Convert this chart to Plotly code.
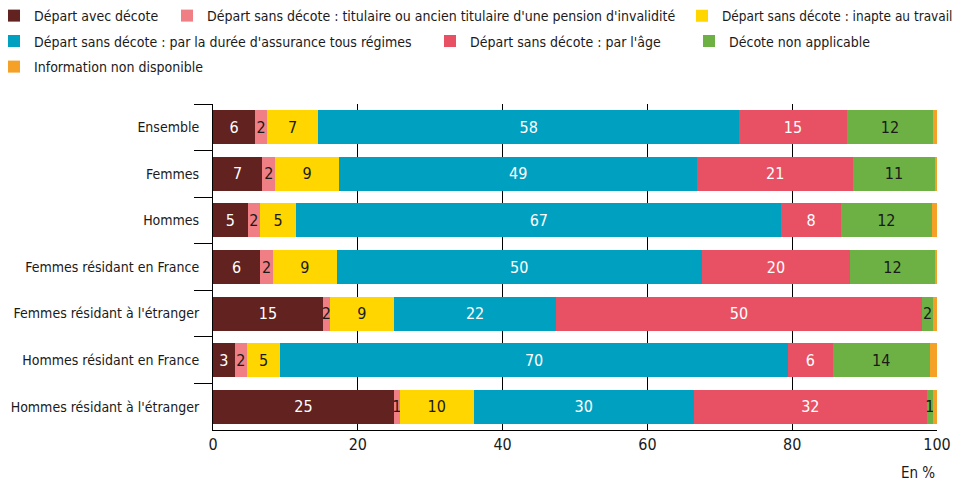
import plotly.graph_objects as go

categories = ["Ensemble", "Femmes", "Hommes", "Femmes résidant en France",
              "Femmes résidant à l'étranger", "Hommes résidant en France",
              "Hommes résidant à l'étranger"]

series_names = ["Départ avec décote",
                "Départ sans décote : titulaire ou ancien titulaire d'une pension d'invalidité",
                "Départ sans décote : inapte au travail",
                "Départ sans décote : par la durée d'assurance tous régimes",
                "Départ sans décote : par l'âge",
                "Décote non applicable",
                "Information non disponible"]

avec_decote = [5.8, 6.8, 4.8, 6.5, 15.2, 3.0, 25.0]
invalidite = [1.7, 1.8, 1.7, 1.8, 0.9, 1.7, 0.8]
inapte = [7.0, 8.8, 5.0, 8.8, 8.9, 4.6, 10.2]
duree = [58.2, 49.5, 67.0, 50.4, 22.4, 70.1, 30.4]
age = [14.8, 21.5, 8.2, 20.5, 50.5, 6.2, 32.2]
non_applicable = [12.0, 11.3, 12.6, 11.7, 1.6, 13.4, 0.8]
non_dispo = [0.5, 0.3, 0.7, 0.3, 0.5, 1.0, 0.6]

lab_avec = [6, 7, 5, 6, 15, 3, 25]
lab_inval = [2, 2, 2, 2, 2, 2, 1]
lab_inapte = [7, 9, 5, 9, 9, 5, 10]
lab_duree = [58, 49, 67, 50, 22, 70, 30]
lab_age = [15, 21, 8, 20, 50, 6, 32]
lab_nonapp = [12, 11, 12, 12, 2, 14, 1]

x_ticks = [0, 20, 40, 60, 80, 100]

colors = ["#62221f", "#ef7f84", "#ffd600", "#00a0c1", "#e85163", "#6db144", "#f5a026"]
text_colors = ["white", "#1a1a1a", "#1a1a1a", "white", "white", "#1a1a1a", "#1a1a1a"]

values = [avec_decote, invalidite, inapte, duree, age, non_applicable, non_dispo]
labels = [lab_avec, lab_inval, lab_inapte, lab_duree, lab_age, lab_nonapp, None]

FONT = "DejaVu Sans Condensed, DejaVu Sans, sans-serif"

# the page body adds an 8px offset; figure is sized so that it fits the window
OFF = 8
W, H = 964 - OFF, 481 - OFF
# target plot area in window pixels: x 213..937, y 104..430
ml, mr, mt, mb = 213 - OFF, 27, 104 - OFF, 51
pw = W - ml - mr
ph = H - mt - mb

def px_x(p):
    # p: window pixel
    return (p - OFF - ml) / pw

def px_y(p):
    return 1 + (mt - (p - OFF)) / ph

legend_names = ["legend", "legend2", "legend3", "legend4", "legend5", "legend6", "legend7"]
# item start pixel x, item centre pixel y (window pixels), font size
legend_pos = [(-6, 16, 14), (167, 16, 14), (682, 16, 13.5), (-6, 41.5, 14),
              (430, 41.5, 14), (689, 41.5, 14), (-6, 67, 14)]

fig = go.Figure()
for i, name in enumerate(series_names):
    if labels[i] is not None:
        kw = dict(text=[str(v) for v in labels[i]], texttemplate="%{text}",
                  textposition="inside", insidetextanchor="middle", textangle=0,
                  insidetextfont=dict(color=text_colors[i], size=16, family=FONT))
    else:
        kw = dict(textposition="none")
    fig.add_trace(go.Bar(
        y=categories, x=values[i], name=name, orientation="h",
        marker=dict(color=colors[i], line=dict(width=0)),
        legend=legend_names[i], hoverinfo="name+x", **kw))

layout_legends = {}
for i, ln in enumerate(legend_names):
    lx, ly, fs = legend_pos[i]
    layout_legends[ln] = dict(
        x=px_x(lx), y=px_y(ly), xanchor="left", yanchor="middle",
        orientation="v", bgcolor="rgba(0,0,0,0)", borderwidth=0,
        font=dict(family=FONT, size=fs, color="#1a1a1a"))

fig.update_layout(
    barmode="stack", bargap=0.27,
    width=W, height=H,
    margin=dict(l=ml, r=mr, t=mt, b=mb, autoexpand=False),
    paper_bgcolor="white", plot_bgcolor="white",
    font=dict(family=FONT, size=16, color="#1a1a1a"),
    uniformtext=dict(minsize=16, mode="show"),
    showlegend=True,
    **layout_legends,
)

fig.update_xaxes(range=[0, 100], tickvals=x_ticks, showgrid=True, gridcolor="black",
                 gridwidth=1, zeroline=False, showline=True, linecolor="black", linewidth=1,
                 ticks="", tickfont=dict(size=16, family=FONT, color="#1a1a1a"), fixedrange=True)
fig.update_yaxes(type="category", categoryorder="array", categoryarray=categories,
                 autorange="reversed", tickson="boundaries", ticks="outside", ticklen=18,
                 ticklabelstandoff=10,
                 tickcolor="black", showline=True, linecolor="black", linewidth=1,
                 showgrid=False, tickfont=dict(size=14, family=FONT, color="#1a1a1a"), fixedrange=True)

fig.add_annotation(text="En %", xref="paper", yref="paper", x=1.0, y=px_y(473),
                   xanchor="right", yanchor="middle", showarrow=False,
                   font=dict(family=FONT, size=15, color="#1a1a1a"))

fig.write_html("out.html")
